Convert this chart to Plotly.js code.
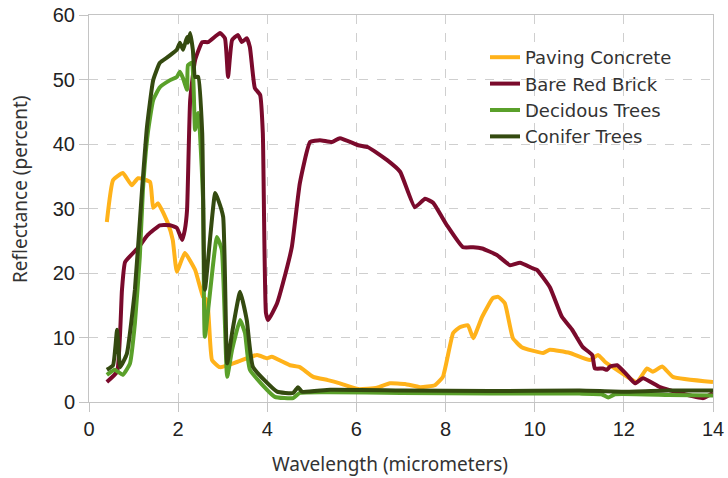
<!DOCTYPE html>
<html>
<head>
<meta charset="utf-8">
<script src="https://cdn.plot.ly/plotly-3.0.1.min.js"></script>
<style>html,body{margin:0;padding:0;background:#fff;}#chart{width:728px;height:478px;}</style>
</head>
<body>
<div id="chart"></div>
<script>
// Paving Concrete
const concreteX = [0.40,0.54,0.76,0.96,1.10,1.37,1.44,1.55,1.77,1.88,1.97,2.15,2.38,2.56,2.65,2.76,2.94,3.32,3.77,3.99,4.10,4.51,4.73,5.03,5.36,5.63,6.04,6.46,6.75,7.09,7.43,7.76,7.94,8.17,8.32,8.50,8.62,8.82,9.06,9.18,9.33,9.51,9.71,10.19,10.34,10.79,11.24,11.42,11.58,11.91,12.29,12.52,12.65,12.86,13.10,14.00];
const concreteY = [27.9,34.4,35.5,33.6,34.7,34.1,30.1,30.8,27.7,25.1,20.2,23.1,20.5,16.3,15.8,6.5,5.4,6.2,7.3,6.8,7.0,5.7,5.4,3.9,3.4,2.9,2.0,2.2,2.9,2.8,2.3,2.6,3.9,10.7,11.6,11.9,9.9,13.2,16.1,16.3,15.3,9.9,8.5,7.6,8.1,7.6,6.5,7.3,6.2,4.7,3.1,5.2,4.7,5.5,3.9,3.1];
// Bare Red Brick
const brickX = [0.40,0.63,0.74,0.81,1.10,1.32,1.59,1.82,1.97,2.09,2.15,2.20,2.27,2.38,2.54,2.67,2.94,3.05,3.12,3.21,3.34,3.43,3.54,3.61,3.72,3.84,3.90,3.97,4.02,4.22,4.35,4.55,4.73,4.96,5.18,5.45,5.63,6.04,6.26,6.69,6.98,7.31,7.54,7.72,8.03,8.39,8.62,8.82,9.15,9.45,9.67,9.96,10.05,10.34,10.61,10.84,11.08,11.29,11.35,11.53,11.62,11.69,11.85,12.07,12.25,12.43,12.81,13.26,13.78,14.00];
const brickY = [3.1,4.7,17.4,21.7,23.9,25.9,27.4,27.4,27.0,25.1,26.7,29.8,46.8,53.0,55.8,55.8,57.2,56.4,50.4,56.1,56.9,55.8,56.4,55.0,48.7,47.6,41.7,13.8,12.7,15.3,18.4,24.0,33.9,40.3,40.6,40.3,40.9,39.8,39.5,37.5,35.7,30.2,31.5,30.9,27.4,24.0,24.0,23.8,22.8,21.2,21.6,20.7,20.5,17.8,13.2,11.2,8.5,7.3,5.2,5.2,5.0,5.5,5.7,4.2,2.9,3.7,2.3,1.4,0.6,1.4];
// Decidous Trees
const decidX = [0.40,0.58,0.76,0.92,1.03,1.14,1.21,1.32,1.44,1.59,1.82,1.97,2.04,2.11,2.20,2.22,2.31,2.38,2.45,2.49,2.56,2.60,2.87,2.98,3.10,3.21,3.39,3.50,3.61,4.17,4.58,4.73,5.41,7.00,9.00,11.00,11.50,11.65,11.80,13.00,14.00];
const decidY = [4.2,5.0,4.2,6.0,12.2,22.5,32.9,41.7,46.8,48.8,49.9,50.4,51.2,50.2,48.4,52.2,52.6,42.2,44.8,41.7,31.3,10.1,25.6,23.6,3.9,8.1,12.7,10.7,5.0,0.8,0.6,1.4,1.5,1.4,1.3,1.3,1.2,0.7,1.2,1.1,1.0];
// Conifer Trees
const coniferX = [0.40,0.54,0.63,0.70,0.85,1.03,1.19,1.30,1.44,1.59,1.77,1.97,2.04,2.11,2.20,2.22,2.27,2.33,2.38,2.45,2.54,2.60,2.83,2.90,3.01,3.10,3.21,3.39,3.54,3.68,4.22,4.58,4.69,4.78,5.41,7.00,9.00,11.00,12.00,13.00,14.00];
const coniferY = [5.0,5.7,11.2,5.4,7.5,17.4,32.9,42.6,49.9,52.6,53.5,54.6,55.7,54.6,56.6,55.7,57.2,54.6,50.4,50.4,41.7,17.4,32.4,31.3,28.7,6.0,10.7,17.1,12.7,5.4,1.6,1.4,2.3,1.6,1.9,1.8,1.7,1.8,1.6,1.8,1.8];

const names = ["Paving Concrete","Bare Red Brick","Decidous Trees","Conifer Trees"];
const colors = ["#FFB21A","#7A0A2C","#5AA02A","#344A10"];
const xTitle = "Wavelength (micrometers)";
const yTitle = "Reflectance (percent)";
const xs = [concreteX, brickX, decidX, coniferX];
const ys = [concreteY, brickY, decidY, coniferY];

const data = names.map((n,i)=>({
  x: xs[i], y: ys[i], name: n, type: 'scatter', mode: 'lines',
  line: {color: colors[i], width: 4, shape: 'spline', smoothing: 0.4}
}));

const titleFont = {family: 'Noto Sans, sans-serif', size: 19, color: '#333'};
const axisCommon = {
  showline: true, linecolor: '#c4c4c4', linewidth: 1, mirror: true,
  ticks: 'outside', ticklen: 9, tickcolor: '#c4c4c4',
  showgrid: true, gridcolor: '#cfcfcf', griddash: 'dash', gridwidth: 1,
  zeroline: false,
  tickfont: {family: 'Liberation Sans, Arial, sans-serif', size: 20, color: '#222'}
};

const layout = {
  width: 728, height: 478,
  margin: {l: 89, r: 15, t: 15, b: 76},
  paper_bgcolor: '#fff', plot_bgcolor: '#fff',
  showlegend: true,
  legend: {x: 0.6346, y: 0.938, xanchor: 'left', yanchor: 'top', bgcolor: 'rgba(0,0,0,0)',
    font: {family: 'DejaVu Sans, sans-serif', size: 18, color: '#333'}, itemwidth: 30, tracegroupgap: 0},
  xaxis: Object.assign({}, axisCommon, {range: [0,14], dtick: 2, ticklabelstandoff: 0}),
  yaxis: Object.assign({}, axisCommon, {range: [0,60], dtick: 10}),
  annotations: [
    {text: xTitle, xref: 'paper', yref: 'paper', x: 0.4824, y: -0.1602, xanchor: 'center', yanchor: 'middle', showarrow: false, font: titleFont},
    {text: yTitle, xref: 'paper', yref: 'paper', x: -0.1106, y: 0.5504, xanchor: 'center', yanchor: 'middle', textangle: -90, showarrow: false, font: titleFont}
  ]
};

Plotly.newPlot('chart', data, layout, {displayModeBar: false, staticPlot: true});
</script>
</body>
</html>
